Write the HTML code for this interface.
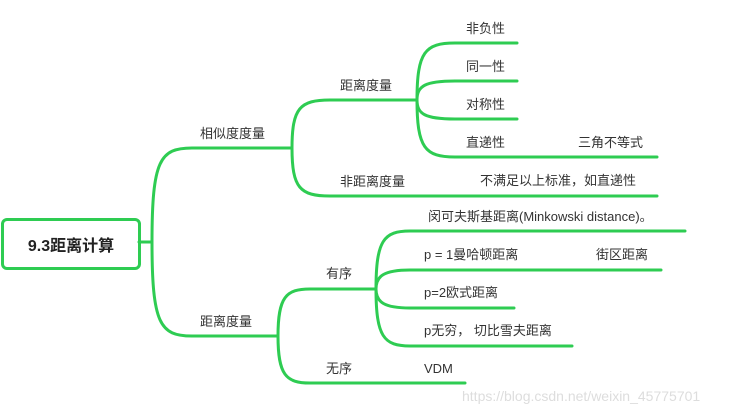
<!DOCTYPE html>
<html><head><meta charset="utf-8"><style>
body{margin:0;width:740px;height:417px;background:#fff;overflow:hidden;position:relative;font-family:"Liberation Sans","Noto Sans CJK SC",sans-serif;}
.t{position:absolute;font-size:13px;color:#333;white-space:nowrap;line-height:16px;}
.root{position:absolute;left:1px;top:218px;width:134px;height:46px;border:3px solid #2ecc52;border-radius:6px;font-weight:bold;font-size:16px;color:#222;display:flex;align-items:center;justify-content:center;}
.wm{position:absolute;left:462px;top:388px;font-size:14px;color:#ddd;}
</style></head><body>
<svg width="740" height="417" style="position:absolute;left:0;top:0" fill="none" stroke="#2ecc52" stroke-width="3" stroke-linecap="round">
<path d="M139 242 H152"/>
<path d="M152 242 C152 160 160 148 192 148 H292"/>
<path d="M152 242 C152 324 160 336 192 336 H278"/>
<path d="M292 148 C292 108 300 100 330 100 H417"/>
<path d="M292 148 C292 188 300 196 330 196 H657"/>
<path d="M417 100 C417 52 425 43 455 43 H517"/>
<path d="M417 100 C417 86 425 81 455 81 H517"/>
<path d="M417 100 C417 114 425 119 455 119 H517"/>
<path d="M417 100 C417 148 425 157 455 157 H657"/>
<path d="M278 336 C278 297 286 289 310 289 H376"/>
<path d="M278 336 C278 375 286 383 310 383 H465"/>
<path d="M376 289 C376 240 384 231 410 231 H685"/>
<path d="M376 289 C376 276 384 270 410 270 H661"/>
<path d="M376 289 C376 302 384 308 410 308 H514"/>
<path d="M376 289 C376 337 384 346 410 346 H572"/>
</svg>
<div class="root">9.3距离计算</div>
<div class="t" style="left:200px;top:126px">相似度度量</div>
<div class="t" style="left:200px;top:314px">距离度量</div>
<div class="t" style="left:340px;top:78px">距离度量</div>
<div class="t" style="left:340px;top:174px">非距离度量</div>
<div class="t" style="left:466px;top:21px">非负性</div>
<div class="t" style="left:466px;top:59px">同一性</div>
<div class="t" style="left:466px;top:97px">对称性</div>
<div class="t" style="left:466px;top:135px">直递性</div>
<div class="t" style="left:578px;top:135px">三角不等式</div>
<div class="t" style="left:480px;top:173px">不满足以上标准，如直递性</div>
<div class="t" style="left:326px;top:266px">有序</div>
<div class="t" style="left:326px;top:361px">无序</div>
<div class="t" style="left:428px;top:209px">闵可夫斯基距离(Minkowski distance)。</div>
<div class="t" style="left:424px;top:247px">p = 1曼哈顿距离</div>
<div class="t" style="left:596px;top:247px">街区距离</div>
<div class="t" style="left:424px;top:285px">p=2欧式距离</div>
<div class="t" style="left:424px;top:323px">p无穷，&nbsp;切比雪夫距离</div>
<div class="t" style="left:424px;top:361px">VDM</div>
<div class="wm">https://blog.csdn.net/weixin_45775701</div>
</body></html>
